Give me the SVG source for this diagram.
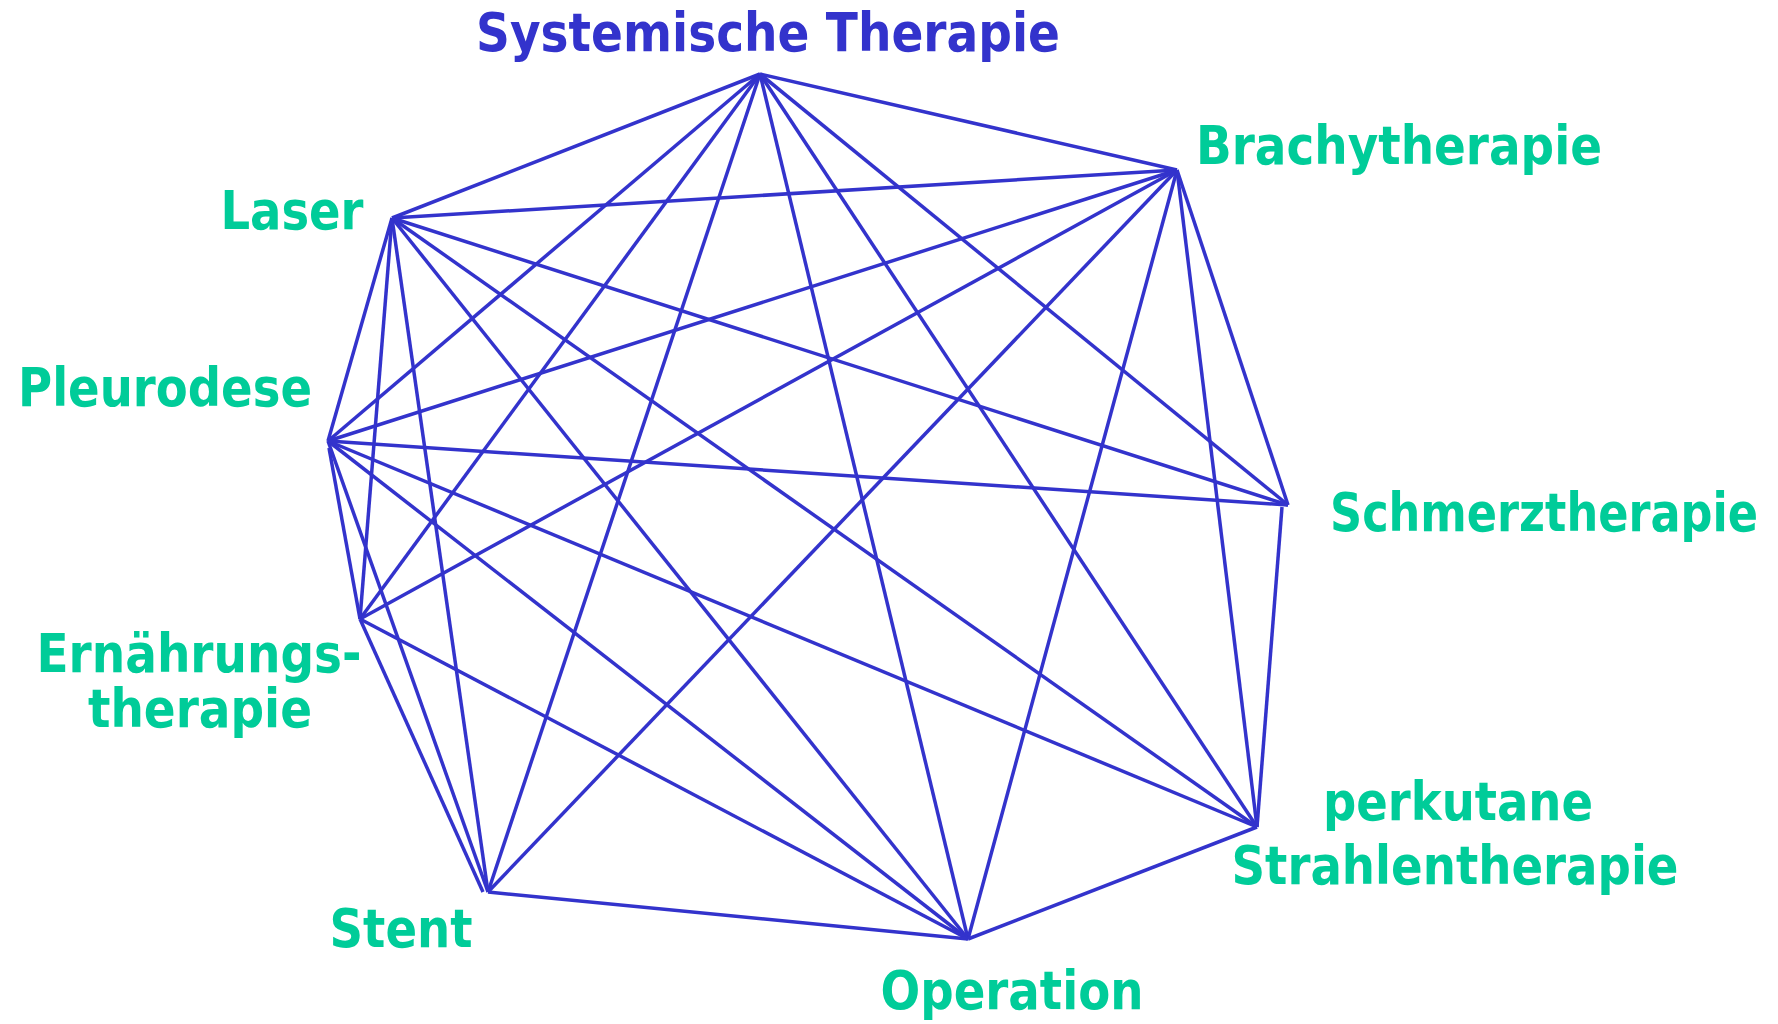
<svg xmlns="http://www.w3.org/2000/svg" width="1778" height="1024" viewBox="0 0 1778 1024">
<style>
.t{font-family:"DejaVu Sans",Verdana,sans-serif;font-weight:bold;font-size:46px;}
.g{fill:#00CC99;}
.b{fill:#3333CC;}
.e line{stroke:#3333CC;stroke-width:3.5;stroke-linecap:butt;}
</style>
<rect width="1778" height="1024" fill="#fff"/>
<g id="connectors" class="e">
<line x1="760" y1="74" x2="1177" y2="170"/>
<line x1="760" y1="74" x2="392" y2="218"/>
<line x1="760" y1="74" x2="328" y2="441"/>
<line x1="760" y1="74" x2="360" y2="619"/>
<line x1="760" y1="74" x2="488" y2="892"/>
<line x1="760" y1="74" x2="968" y2="939"/>
<line x1="760" y1="74" x2="1257" y2="827"/>
<line x1="760" y1="74" x2="1288" y2="505"/>
<line x1="1177" y1="170" x2="392" y2="218"/>
<line x1="1177" y1="170" x2="328" y2="441"/>
<line x1="1177" y1="170" x2="360" y2="619"/>
<line x1="1177" y1="170" x2="488" y2="892"/>
<line x1="1177" y1="170" x2="968" y2="939"/>
<line x1="1177" y1="170" x2="1257" y2="827"/>
<line x1="1177" y1="170" x2="1288" y2="505"/>
<line x1="392" y1="218" x2="328" y2="441"/>
<line x1="392" y1="218" x2="360" y2="619"/>
<line x1="392" y1="218" x2="488" y2="892"/>
<line x1="392" y1="218" x2="968" y2="939"/>
<line x1="392" y1="218" x2="1257" y2="827"/>
<line x1="392" y1="218" x2="1288" y2="505"/>
<line x1="329" y1="448" x2="360" y2="619"/>
<line x1="328" y1="441" x2="488" y2="892"/>
<line x1="328" y1="441" x2="968" y2="939"/>
<line x1="328" y1="441" x2="1257" y2="827"/>
<line x1="328" y1="441" x2="1288" y2="505"/>
<line x1="360" y1="619" x2="483" y2="892"/>
<line x1="360" y1="619" x2="968" y2="939"/>
<line x1="488" y1="892" x2="968" y2="939"/>
<line x1="968" y1="939" x2="1257" y2="827"/>
<line x1="1282" y1="507" x2="1257" y2="827"/>
</g>
<g id="systemische"><text class="t b" transform="translate(768,51) scale(1,1.15)" text-anchor="middle" textLength="584" lengthAdjust="spacingAndGlyphs">Systemische Therapie</text></g>
<g id="brachytherapie"><text class="t g" transform="translate(1399,164) scale(1,1.15)" text-anchor="middle" textLength="406" lengthAdjust="spacingAndGlyphs">Brachytherapie</text></g>
<g id="laser"><text class="t g" transform="translate(292,229) scale(1,1.15)" text-anchor="middle" textLength="143" lengthAdjust="spacingAndGlyphs">Laser</text></g>
<g id="pleurodese"><text class="t g" transform="translate(165,406) scale(1,1.15)" text-anchor="middle" textLength="294" lengthAdjust="spacingAndGlyphs">Pleurodese</text></g>
<g id="schmerztherapie"><text class="t g" transform="translate(1544,531) scale(1,1.15)" text-anchor="middle" textLength="428" lengthAdjust="spacingAndGlyphs">Schmerztherapie</text></g>
<g id="ernaehrung"><text class="t g" transform="translate(199,672) scale(1,1.15)" text-anchor="middle" textLength="325" lengthAdjust="spacingAndGlyphs">Ernährungs-</text><text class="t g" transform="translate(200,727) scale(1,1.15)" text-anchor="middle" textLength="224" lengthAdjust="spacingAndGlyphs">therapie</text></g>
<g id="perkutane"><text class="t g" transform="translate(1458,820) scale(1,1.15)" text-anchor="middle" textLength="270" lengthAdjust="spacingAndGlyphs">perkutane</text><text class="t g" transform="translate(1455,884) scale(1,1.15)" text-anchor="middle" textLength="447" lengthAdjust="spacingAndGlyphs">Strahlentherapie</text></g>
<g id="stent"><text class="t g" transform="translate(401,947) scale(1,1.15)" text-anchor="middle" textLength="143" lengthAdjust="spacingAndGlyphs">Stent</text></g>
<g id="operation"><text class="t g" transform="translate(1012,1009) scale(1,1.15)" text-anchor="middle" textLength="263" lengthAdjust="spacingAndGlyphs">Operation</text></g>
</svg>
